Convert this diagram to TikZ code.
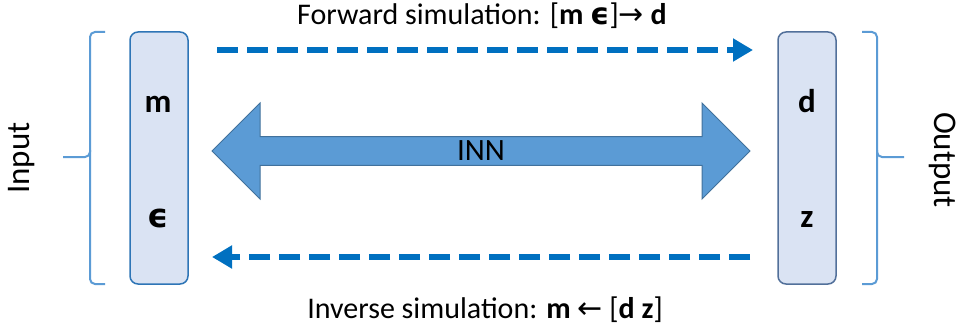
\documentclass[tikz,border=0pt]{standalone}
\usepackage{fontspec}
\setmainfont{Carlito}
\newfontfamily\symfont{DejaVu Sans}
\usetikzlibrary{arrows.meta,shapes.arrows}

\definecolor{simblue}{HTML}{0070C0}
\definecolor{innfill}{HTML}{5B9BD5}
\definecolor{innline}{HTML}{41719C}
\definecolor{boxfill}{HTML}{DAE3F3}
\definecolor{inline}{HTML}{2E75B6}
\definecolor{outline}{HTML}{52709A}

\tikzset{
  colbox/.style={draw, fill=boxfill, line width=1.5pt, rounded corners=8pt,
    minimum width=58pt, minimum height=252pt, inner sep=0pt},
  varlabel/.style={font=\fontsize{33}{38}\selectfont\bfseries, anchor=base, inner sep=0pt},
  simarrow/.style={simblue, line width=6pt, dash pattern=on 21pt off 9pt,
    -{Triangle[length=20pt,width=22pt]}},
  simlabel/.style={font=\fontsize{30}{35}\selectfont, anchor=base, inner sep=0pt},
  sidelabel/.style={font=\fontsize{33}{38}\selectfont, inner sep=0pt},
  bracket/.style={draw=innfill, line width=2pt, rounded corners=5pt}
}

\begin{document}
\begin{tikzpicture}[x=1pt,y=-1pt]
  % Page frame, in pixels of the reference.
  \useasboundingbox (0,0) rectangle (961,329);
  % Input and output columns.
  \node[colbox, draw=inline] (inbox) at (159,158) {};
  \node[colbox, draw=outline] (outbox) at (807,158) {};
  % Variables in the columns.
  \node[varlabel] (m) at (158,112) {m};
  \node[varlabel] (eps) at (158,227) {\symfont ϵ};
  \node[varlabel] (d) at (807,112) {d};
  \node[varlabel] (z) at (807,227) {z};
  % The invertible network between them.
  \node[double arrow, draw=innline, fill=innfill, line width=1pt,
    minimum height=538pt, minimum width=96pt, double arrow head extend=24.5pt,
    double arrow tip angle=90, inner sep=0pt,
    font=\fontsize{31}{36}\selectfont] (inn) at (481,151) {INN};
  % Forward and inverse simulation (ends as coordinates).
  \coordinate (fwdstart) at (217,50);
  \coordinate (fwdend) at (753,50);
  \coordinate (invstart) at (750,257);
  \coordinate (invend) at (212,257);
  \draw[simarrow] (fwdstart) -- (fwdend);
  \draw[simarrow] (invstart) -- (invend);
  \node[simlabel] (fwdtext) at (482,25)
    {Forward simulation: [\textbf{m {\symfont\bfseries ϵ}}]{\symfont →} \textbf{d}};
  \node[simlabel] (invtext) at (485,318)
    {Inverse simulation: \textbf{m} {\symfont ←} [\textbf{d z}]};
  % Brackets with their labels.
  \draw[bracket] (105,32) -| (90,157) -- (63,157);
  \draw[bracket] (90,150) |- (105,284);
  \draw[bracket] (862,32) -| (877,157) -- (904,157);
  \draw[bracket] (877,150) |- (862,284);
  \node[sidelabel, rotate=90] (input) at (22,158) {Input};
  \node[sidelabel, rotate=-90] (output) at (943,160) {Output};
\end{tikzpicture}
\end{document}
